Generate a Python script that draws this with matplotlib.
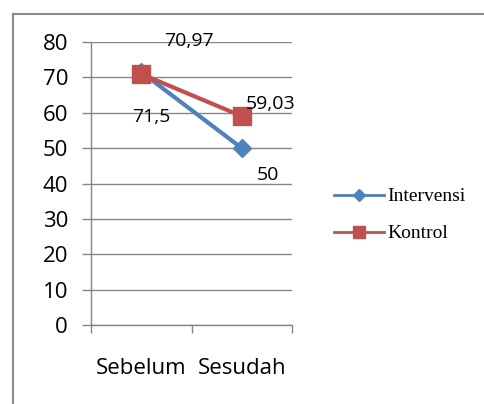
import matplotlib
matplotlib.use("Agg")
import matplotlib.pyplot as plt
from matplotlib.lines import Line2D

# Data
categories = ["Sebelum", "Sesudah"]
intervensi = [71.5, 50]
kontrol = [70.97, 59.03]
intervensi_labels = ["71,5", "50"]
kontrol_labels = ["70,97", "59,03"]
y_ticks = [0, 10, 20, 30, 40, 50, 60, 70, 80]

BLUE = "#4F81BD"
RED = "#C0504D"
GRID = "#868686"
SANS = ["Open Sans", "DejaVu Sans"]
SERIF = ["Liberation Serif", "DejaVu Serif"]

fig = plt.figure(figsize=(4.84, 4.04), dpi=100)
ax = fig.add_axes([91 / 484, 1 - 325 / 404, 201 / 484, 283 / 404])

x = [0.5, 1.5]
ax.plot(x, intervensi, color=BLUE, lw=3, marker="D", markersize=9.5,
        markerfacecolor=BLUE, markeredgecolor=BLUE, zorder=3, clip_on=False)
ax.plot(x, kontrol, color=RED, lw=3, marker="s", markersize=13.5,
        markerfacecolor=RED, markeredgecolor=RED, zorder=4, clip_on=False)

# Data labels (offsets in points)
label_kw = dict(textcoords="offset points", ha="center", va="center",
                fontsize=14, family=SANS, color="black", zorder=5)
ax.annotate(kontrol_labels[0], (x[0], kontrol[0]), xytext=(34, 24), **label_kw)
ax.annotate(intervensi_labels[0], (x[0], intervensi[0]), xytext=(7, -32), **label_kw)
ax.annotate(kontrol_labels[1], (x[1], kontrol[1]), xytext=(21, 9), **label_kw)
ax.annotate(intervensi_labels[1], (x[1], intervensi[1]), xytext=(19, -19), **label_kw)

ax.set_xlim(0, 2)
ax.set_ylim(0, 80)
ax.set_yticks(y_ticks)
ax.set_yticklabels([str(v) for v in y_ticks], family=SANS, fontsize=16)
ax.set_xticks([0, 1, 2])
ax.set_xticklabels([])
ax.set_xticks(x, minor=True)
ax.set_xticklabels(categories, minor=True, family=SANS, fontsize=16)
ax.tick_params(axis="x", which="minor", length=0, pad=24)
ax.tick_params(axis="x", which="major", direction="out", length=5.5, width=1, color=GRID)
ax.tick_params(axis="y", direction="out", length=6.5, width=1, color=GRID, pad=10)

ax.yaxis.grid(True, color=GRID, lw=1)
ax.set_axisbelow(True)
for side in ["top", "right"]:
    ax.spines[side].set_visible(False)
for side in ["left", "bottom"]:
    ax.spines[side].set_color(GRID)
    ax.spines[side].set_linewidth(1)

# Legend
handles = [
    Line2D([], [], color=BLUE, lw=2, marker="D", markersize=6, markeredgecolor=BLUE),
    Line2D([], [], color=RED, lw=2, marker="s", markersize=8, markeredgecolor=RED),
]
fig.legend(handles, ["Intervensi", "Kontrol"], loc="upper left",
           bbox_to_anchor=(326 / 484, 1 - 180 / 404), frameon=False,
           prop={"family": SERIF, "size": 14}, handlelength=2.6,
           handletextpad=0.15, labelspacing=1.0, borderaxespad=0)

# Outer chart border (left and top edges)
border_x = 12.5 / 484
border_y = 1 - 13.5 / 404
fig.add_artist(Line2D([border_x, border_x], [0.0, border_y],
                      transform=fig.transFigure, color="#8a8a8a", lw=1.5))
fig.add_artist(Line2D([border_x, 1.0], [border_y, border_y],
                      transform=fig.transFigure, color="#8a8a8a", lw=1.5))

fig.savefig("out.png", dpi=100, facecolor="white")
